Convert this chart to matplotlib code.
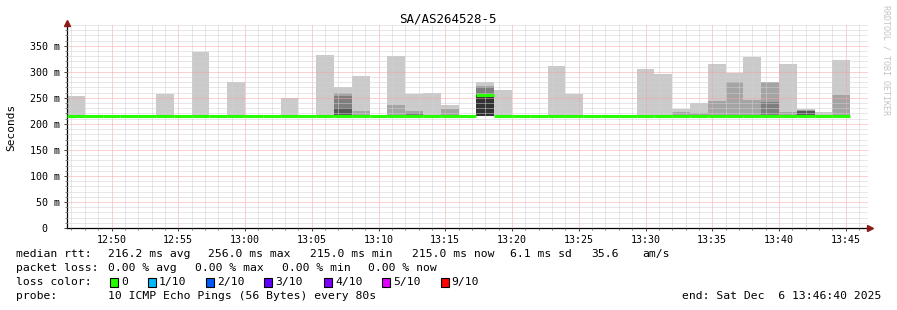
import matplotlib
matplotlib.use('Agg')
import matplotlib.pyplot as plt
import matplotlib.dates as mdates
from matplotlib.patches import Rectangle
from matplotlib.ticker import MultipleLocator, FuncFormatter
import numpy as np
import pandas as pd

W, H = 897, 310
MONO = 'DejaVu Sans Mono'

t_start = pd.Timestamp('2025-12-06 12:46:40')
t_end = pd.Timestamp('2025-12-06 13:46:40')
steps = pd.date_range(t_start, periods=44, freq='80s')

# 10 pings per step, sorted; the five lowest all sit at the minimum
ping_min = 215.0
ping10 = [254, 215, 215, 215, 215, 258, 215, 338.5, 215, 281,
          216, 215, 250, 215, 333, 270.5, 292, 215, 331, 258,
          260, 237, 215, 281, 265.5, 215, 215, 311.5, 258, 215,
          215, 215, 306, 296, 229.5, 240, 315.5, 298, 329, 281,
          315.5, 229, 223, 323]
ping9 = [215, 215, 215, 215, 215, 215, 215, 215, 215, 215,
         215, 215, 215, 215, 215, 260, 225.5, 215, 237, 224,
         215, 228, 215, 273, 215, 215, 215, 215, 215, 215,
         215, 215, 215, 215, 222, 220, 244, 281, 246, 280,
         223, 226, 215, 256]
ping8 = [215, 215, 215, 215, 215, 215, 215, 215, 215, 215,
         215, 215, 215, 215, 215, 254.5, 215, 215, 215, 221,
         215, 215, 215, 270.5, 215, 215, 215, 215, 215, 215,
         215, 215, 215, 215, 215, 215, 215, 215, 215, 242,
         215, 225.5, 215, 215]
ping7 = [215, 215, 215, 215, 215, 215, 215, 215, 215, 215,
         215, 215, 215, 215, 215, 231, 215, 215, 215, 215,
         215, 215, 215, 257, 215, 215, 215, 215, 215, 215,
         215, 215, 215, 215, 215, 215, 215, 215, 215, 215,
         215, 225, 215, 215]
ping6 = [215, 215, 215, 215, 215, 215, 215, 215, 215, 215,
         215, 215, 215, 215, 215, 215, 215, 215, 215, 215,
         215, 215, 215, 256, 215, 215, 215, 215, 215, 215,
         215, 215, 215, 215, 215, 215, 215, 215, 215, 215,
         215, 215, 215, 215]
median = [216, 215, 215, 215, 215, 216, 215, 215, 215, 215,
          216, 215, 215, 215, 215, 216, 215, 215, 216, 215,
          215, 216, 215, 256, 216, 216, 215, 216, 215, 215,
          215, 215, 216, 215, 215, 215, 215, 215, 215, 216,
          216, 216, 215, 215]

smoke_colors = ['#cacaca', '#a4a4a4', '#7e7e7e', '#585858', '#323232']
loss_labels = ['0', '1/10', '2/10', '3/10', '4/10', '5/10', '9/10']
loss_colors = ['#26ff00', '#00b8ff', '#0059ff', '#5e00ff', '#7e00ff', '#dd00ff', '#ff0000']

fig = plt.figure(figsize=(W / 100, H / 100), dpi=100)
fig.patch.set_facecolor('white')
ax = fig.add_axes([67 / W, (H - 228) / H, (868 - 67) / W, (228 - 25) / H])

x0 = mdates.date2num(steps.to_pydatetime())
step_w = 80 / 86400.0

for top, col in zip([ping10, ping9, ping8, ping7, ping6], smoke_colors):
    ax.bar(x0, np.array(top) - ping_min, bottom=ping_min, width=step_w,
           align='edge', color=col, linewidth=0, zorder=1)

ax.hlines(median, x0, x0 + step_w, color=loss_colors[0], linewidth=2.2, zorder=3)

ax.set_xlim(mdates.date2num(t_start.to_pydatetime()), mdates.date2num(t_end.to_pydatetime()))
ax.set_ylim(0, 390)

ax.xaxis.set_major_locator(mdates.MinuteLocator(byminute=range(0, 60, 5)))
ax.xaxis.set_minor_locator(mdates.MinuteLocator())
ax.xaxis.set_major_formatter(mdates.DateFormatter('%H:%M'))
ax.yaxis.set_major_locator(MultipleLocator(50))
ax.yaxis.set_minor_locator(MultipleLocator(10))
ax.yaxis.set_major_formatter(FuncFormatter(lambda v, p: '0  ' if v == 0 else '%d m' % v))

ax.set_axisbelow(False)
ax.grid(which='minor', color='#d0d0d0', linestyle=(0, (1, 1)), linewidth=0.72)
ax.grid(which='major', color='#f4a4a4', linestyle=(0, (1, 1)), linewidth=0.72)

for s in ['top', 'right']:
    ax.spines[s].set_visible(False)
for s in ['left', 'bottom']:
    ax.spines[s].set_linewidth(0.9)
    ax.spines[s].set_color('black')

ax.tick_params(which='major', length=2.2, width=0.7, color='#444444', pad=2.6,
               labelsize=7.2)
ax.tick_params(which='minor', length=1.4, width=0.6, color='#666666')
for lab in ax.get_xticklabels() + ax.get_yticklabels():
    lab.set_family(MONO)

# axis arrows
ax.plot([0], [1.01], marker='^', color='#8b1a1a', markersize=4, transform=ax.transAxes,
        clip_on=False, zorder=5)
ax.plot([1.003], [0], marker='>', color='#8b1a1a', markersize=4, transform=ax.transAxes,
        clip_on=False, zorder=5)

fig.text(448 / W, 1 - 19 / H, 'SA/AS264528-5', ha='center', va='center',
         fontsize=9, family=MONO)
fig.text(11 / W, 1 - 127 / H, 'Seconds', rotation=90, ha='center', va='center',
         fontsize=8, family=MONO)
fig.text(886 / W, 1 - 60 / H, 'RRDTOOL / TOBI OETIKER', rotation=270, ha='center',
         va='center', fontsize=6, family=MONO, color='#c4c4c4')


def put(x, y, s, ha='left'):
    fig.text(x / W, 1 - y / H, s, ha=ha, va='center', fontsize=8.2, family=MONO)


row1 = [(16, 'median rtt:'), (108, '216.2 ms avg'), (208, '256.0 ms max'),
        (310, '215.0 ms min'), (412, '215.0 ms now'), (510, '6.1 ms sd'),
        (591, '35.6'), (642, 'am/s')]
row2 = [(16, 'packet loss:'), (108, '0.00 % avg'), (195, '0.00 % max'),
        (282, '0.00 % min'), (368, '0.00 % now')]
for x, s in row1:
    put(x, 254, s)
for x, s in row2:
    put(x, 268, s)

put(16, 282, 'loss color:')
box_x = [110, 147.5, 206, 264, 324, 382, 440.5]
for bx, lab, col in zip(box_x, loss_labels, loss_colors):
    fig.patches.append(Rectangle((bx / W, 1 - 286.5 / H), 8 / W, 9 / H,
                                 transform=fig.transFigure, facecolor=col,
                                 edgecolor='black', linewidth=0.8))
    put(bx + 11, 282, lab)

put(16, 296, 'probe:')
put(108, 296, '10 ICMP Echo Pings (56 Bytes) every 80s')
put(881, 296, 'end: Sat Dec  6 13:46:40 2025', ha='right')

fig.savefig('out.png', dpi=100, facecolor='white')
